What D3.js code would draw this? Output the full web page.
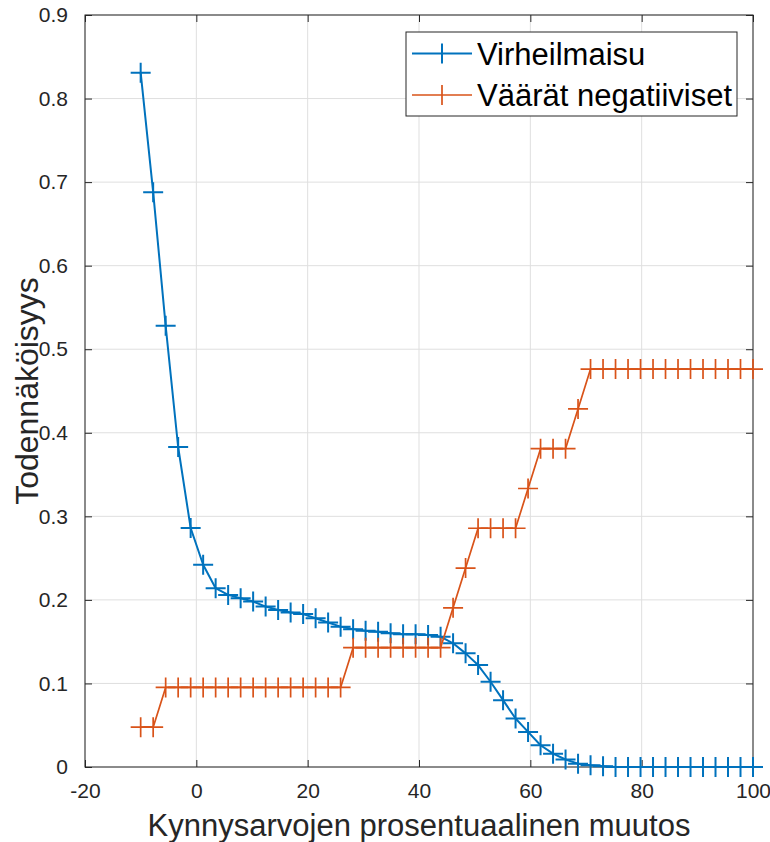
<!DOCTYPE html>
<html>
<head>
<meta charset="utf-8">
<script src="https://cdn.jsdelivr.net/npm/d3@7"></script>
<style>
  html, body { margin: 0; padding: 0; background: #fff; }
  svg { display: block; font-family: "Liberation Sans", Arial, Helvetica, sans-serif; }
</style>
</head>
<body>
<svg id="chart" width="770" height="842"></svg>
<script>
// --- Data ---
// 50 threshold steps, evenly spaced from -10 to 100 %
const xFirst = -10;
const xLast = 100;
const nPoints = 50;
const xValues = d3.range(nPoints).map(i => xFirst + i * (xLast - xFirst) / (nPoints - 1));

const falseAlarm = [
  0.831, 0.688, 0.528, 0.383, 0.286, 0.242, 0.214, 0.206, 0.202, 0.198,
  0.192, 0.188, 0.185, 0.183, 0.178, 0.173, 0.168, 0.165, 0.163, 0.162,
  0.160, 0.159, 0.159, 0.158, 0.156, 0.148, 0.136, 0.122, 0.102, 0.080,
  0.058, 0.042, 0.026, 0.016, 0.009, 0.004, 0.002, 0.001, 0.000, 0.000,
  0.000, 0.000, 0.000, 0.000, 0.000, 0.000, 0.000, 0.000, 0.000, 0.000
];

// false negatives come in steps of 1/21
const falseNegSteps = [
  1, 1,
  2, 2, 2, 2, 2, 2, 2, 2, 2, 2, 2, 2, 2, 2, 2,
  3, 3, 3, 3, 3, 3, 3, 3,
  4, 5,
  6, 6, 6, 6,
  7,
  8, 8, 8,
  9,
  10, 10, 10, 10, 10, 10, 10, 10, 10, 10, 10, 10, 10, 10
];
const falseNeg = falseNegSteps.map(k => k / 21);

const seriesNames = ['Virheilmaisu', 'Väärät negatiiviset'];
const seriesColors = ['#0072BD', '#D95319'];
const xTicks = [-20, 0, 20, 40, 60, 80, 100];
const yTicks = [0, 0.1, 0.2, 0.3, 0.4, 0.5, 0.6, 0.7, 0.8, 0.9];
const xLabel = 'Kynnysarvojen prosentuaalinen muutos';
const yLabel = 'Todennäköisyys';

// --- Layout ---
const margin = { top: 15, right: 17, bottom: 75, left: 85 };
const totalW = 770, totalH = 842;
const width = totalW - margin.left - margin.right;
const height = totalH - margin.top - margin.bottom;
const axisColor = '#262626';
const gridColor = '#dfdfdf';

const svg = d3.select('#chart');
const g = svg.append('g').attr('transform', `translate(${margin.left},${margin.top})`);

const x = d3.scaleLinear().domain([-20, 100]).range([0, width]);
const y = d3.scaleLinear().domain([0, 0.9]).range([height, 0]);

// Grid
g.append('g').selectAll('line').data(xTicks).join('line')
  .attr('x1', d => x(d)).attr('x2', d => x(d))
  .attr('y1', 0).attr('y2', height)
  .attr('stroke', gridColor).attr('stroke-width', 1);
g.append('g').selectAll('line').data(yTicks).join('line')
  .attr('x1', 0).attr('x2', width)
  .attr('y1', d => y(d)).attr('y2', d => y(d))
  .attr('stroke', gridColor).attr('stroke-width', 1);

// Axes (MATLAB style: inward ticks on all four sides)
const tickLen = 7;
function styleAxis(sel) {
  sel.select('.domain').remove();
  sel.selectAll('.tick line').attr('stroke', axisColor).attr('stroke-width', 1);
  sel.selectAll('.tick text').attr('fill', axisColor).style('font-size', '21px');
}
g.append('g').attr('transform', `translate(0,${height})`)
  .call(d3.axisBottom(x).tickValues(xTicks).tickSizeInner(-tickLen).tickSizeOuter(0).tickPadding(16).tickFormat(d => String(d)))
  .call(styleAxis);
g.append('g')
  .call(d3.axisTop(x).tickValues(xTicks).tickSizeInner(-tickLen).tickSizeOuter(0).tickFormat(''))
  .call(styleAxis);
g.append('g')
  .call(d3.axisLeft(y).tickValues(yTicks).tickSizeInner(-tickLen).tickSizeOuter(0).tickPadding(17).tickFormat(d => d === 0 ? '0' : d3.format('.1f')(d)))
  .call(styleAxis);
g.append('g').attr('transform', `translate(${width},0)`)
  .call(d3.axisRight(y).tickValues(yTicks).tickSizeInner(-tickLen).tickSizeOuter(0).tickFormat(''))
  .call(styleAxis);

// Box
g.append('rect').attr('x', 0).attr('y', 0).attr('width', width).attr('height', height)
  .attr('fill', 'none').attr('stroke', axisColor).attr('stroke-width', 1);

// Series
const markerHalf = 10;
const series = [falseAlarm, falseNeg];
const lineWidths = [2, 1.7];
series.forEach((vals, si) => {
  const pts = vals.map((v, i) => [xValues[i], v]);
  const sg = g.append('g');
  sg.append('path').datum(pts)
    .attr('d', d3.line().x(d => x(d[0])).y(d => y(d[1])))
    .attr('fill', 'none').attr('stroke', seriesColors[si])
    .attr('stroke-width', lineWidths[si]).attr('stroke-linejoin', 'round');
  sg.selectAll('path.marker').data(pts).join('path')
    .attr('class', 'marker')
    .attr('d', d => {
      const cx = x(d[0]), cy = y(d[1]);
      return `M${cx - markerHalf},${cy}H${cx + markerHalf}M${cx},${cy - markerHalf}V${cy + markerHalf}`;
    })
    .attr('fill', 'none').attr('stroke', seriesColors[si]).attr('stroke-width', lineWidths[si]);
});

// Axis labels
svg.append('text')
  .attr('x', margin.left + width / 2).attr('y', 836)
  .attr('text-anchor', 'middle').attr('fill', axisColor)
  .style('font-size', '31px').text(xLabel);
svg.append('text')
  .attr('transform', `translate(38,${margin.top + height / 2}) rotate(-90)`)
  .attr('text-anchor', 'middle').attr('fill', axisColor)
  .style('font-size', '32px').text(yLabel);

// Legend
const legX = 406 - margin.left, legY = 32 - margin.top;
const leg = g.append('g').attr('transform', `translate(${legX},${legY})`);
leg.append('rect').attr('x', 0).attr('y', 0).attr('width', 331).attr('height', 84)
  .attr('fill', '#fff').attr('stroke', axisColor).attr('stroke-width', 1);
seriesNames.forEach((name, i) => {
  const ry = 21.5 + i * 41.5;
  leg.append('line').attr('x1', 6).attr('x2', 66).attr('y1', ry).attr('y2', ry)
    .attr('stroke', seriesColors[i]).attr('stroke-width', lineWidths[i]);
  leg.append('line').attr('x1', 36).attr('x2', 36).attr('y1', ry - markerHalf).attr('y2', ry + markerHalf)
    .attr('stroke', seriesColors[i]).attr('stroke-width', lineWidths[i]);
  leg.append('text').attr('x', 71).attr('y', ry + 11)
    .attr('fill', '#000').style('font-size', '31px').text(name);
});
</script>
</body>
</html>
